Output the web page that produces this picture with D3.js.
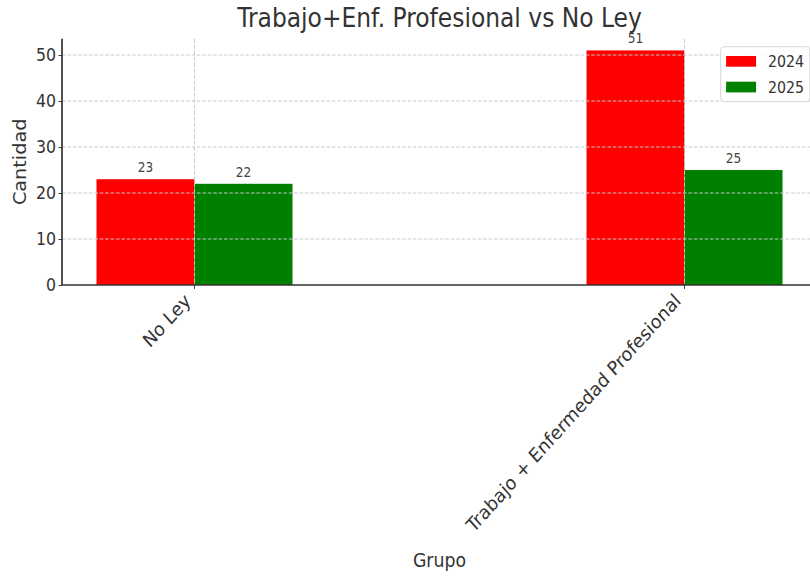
<!DOCTYPE html>
<html>
<head>
	<meta charset="utf-8">
	<title>Trabajo+Enf. Profesional vs No Ley</title>
	<script src="https://cdn.jsdelivr.net/npm/d3@7/dist/d3.min.js"></script>
	<style>
		html, body { margin: 0; padding: 0; background: #fff; }
		svg { display: block; }
		text { font-family: "DejaVu Sans", sans-serif; fill: #333; }
	</style>
</head>
<body>
	<script>

		// data
		var groups = ["No Ley", "Trabajo + Enfermedad Profesional"];
		var series = ["2024", "2025"];
		var values2024 = [23, 51];
		var values2025 = [22, 25];
		var colors = ["#ff0000", "#008000"];
		var yTicks = [0, 10, 20, 30, 40, 50];

		// picture is squeezed sideways, so draw in a wider box and let the viewBox shrink it
		var width = 810, height = 578;
		var k = 0.9;
		var W = width / k;

		var svg = d3.select("body").append("svg")
			.attr("width", width)
			.attr("height", height)
			.attr("viewBox", "0 0 " + W + " " + height)
			.attr("preserveAspectRatio", "none");

		var plotLeft = 62 / k, plotRight = 817 / k;
		var plotTop = 38.7, plotBottom = 285;

		var x0 = d3.scaleBand().domain(groups).range([plotLeft, plotRight])
			.paddingInner(0.6).paddingOuter(0.0704);
		var x1 = d3.scaleBand().domain(series).range([0, x0.bandwidth()]);
		var y = d3.scaleLinear().domain([0, 51 * 1.05]).range([plotBottom, plotTop]);

		var rows = groups.map(function(g, i) {
			return { group: g, vals: [values2024[i], values2025[i]] };
		});

		// bars
		var gBars = svg.append("g");
		rows.forEach(function(r) {
			series.forEach(function(s, j) {
				gBars.append("rect")
					.attr("x", x0(r.group) + x1(s))
					.attr("y", y(r.vals[j]))
					.attr("width", x1.bandwidth())
					.attr("height", y(0) - y(r.vals[j]))
					.attr("fill", colors[j]);
				svg.append("text")
					.attr("x", x0(r.group) + x1(s) + x1.bandwidth() / 2)
					.attr("y", y(r.vals[j]) - 7)
					.attr("text-anchor", "middle")
					.style("font-size", "13.5px")
					.style("fill", "#444")
					.text(r.vals[j]);
			});
		});

		// grid on top of bars
		var grid = svg.append("g")
			.attr("stroke", "#c8c8c8")
			.attr("stroke-dasharray", "4,2")
			.attr("stroke-width", 1);
		yTicks.forEach(function(t) {
			if (t === 0) return;
			grid.append("line")
				.attr("x1", plotLeft).attr("x2", plotRight)
				.attr("y1", y(t)).attr("y2", y(t));
		});
		groups.forEach(function(g) {
			var cx = x0(g) + x0.bandwidth() / 2;
			grid.append("line")
				.attr("x1", cx).attr("x2", cx)
				.attr("y1", plotTop).attr("y2", plotBottom);
		});

		// y axis
		var yAxis = svg.append("g")
			.attr("transform", "translate(" + plotLeft + ",0)")
			.call(d3.axisLeft(y).tickValues(yTicks).tickSize(3.9).tickPadding(2.8));
		yAxis.select(".domain").remove();
		yAxis.selectAll("line").attr("stroke", "#333");
		yAxis.selectAll("text").style("font-size", "17.5px").style("fill", "#333")
			.style("font-family", "DejaVu Sans");

		// spines
		svg.append("line")
			.attr("x1", plotLeft).attr("x2", plotLeft)
			.attr("y1", plotTop).attr("y2", plotBottom)
			.attr("stroke", "#333").attr("stroke-width", 1.9);
		svg.append("line")
			.attr("x1", plotLeft).attr("x2", plotRight)
			.attr("y1", plotBottom).attr("y2", plotBottom)
			.attr("stroke", "#333").attr("stroke-width", 1.7);

		// x ticks and rotated labels
		groups.forEach(function(g) {
			var cx = x0(g) + x0.bandwidth() / 2;
			svg.append("line")
				.attr("x1", cx).attr("x2", cx)
				.attr("y1", plotBottom).attr("y2", plotBottom + 3.9)
				.attr("stroke", "#333");
			svg.append("text")
				.attr("transform", "translate(" + (cx - 3) + "," + 302 + ") rotate(-45)")
				.attr("text-anchor", "end")
				.style("font-size", "19.25px")
				.text(g);
		});

		// titles
		svg.append("text")
			.attr("x", (plotLeft + plotRight) / 2)
			.attr("y", 27)
			.attr("text-anchor", "middle")
			.style("font-size", "26px")
			.text("Trabajo+Enf. Profesional vs No Ley");

		svg.append("text")
			.attr("x", (plotLeft + plotRight) / 2)
			.attr("y", 567)
			.attr("text-anchor", "middle")
			.style("font-size", "19.25px")
			.text("Grupo");

		svg.append("text")
			.attr("transform", "translate(" + (26 / k) + "," + ((plotTop + plotBottom) / 2) + ") rotate(-90)")
			.attr("text-anchor", "middle")
			.style("font-size", "19.25px")
			.text("Cantidad");

		// legend
		var lg = svg.append("g").attr("transform", "translate(" + (720.7 / k) + ",46.7)");
		lg.append("rect")
			.attr("width", 99).attr("height", 55)
			.attr("rx", 4).attr("ry", 4)
			.attr("fill", "#fff").attr("fill-opacity", 0.85)
			.attr("stroke", "#d4d4d4");
		series.forEach(function(s, j) {
			lg.append("rect")
				.attr("x", 6).attr("y", 9.3 + j * 25.7)
				.attr("width", 33.3).attr("height", 10.7)
				.attr("fill", colors[j]);
			lg.append("text")
				.attr("x", 52.5).attr("y", 20.3 + j * 26.3)
				.style("font-size", "15.75px")
				.text(s);
		});

	</script>
</body>
</html>
